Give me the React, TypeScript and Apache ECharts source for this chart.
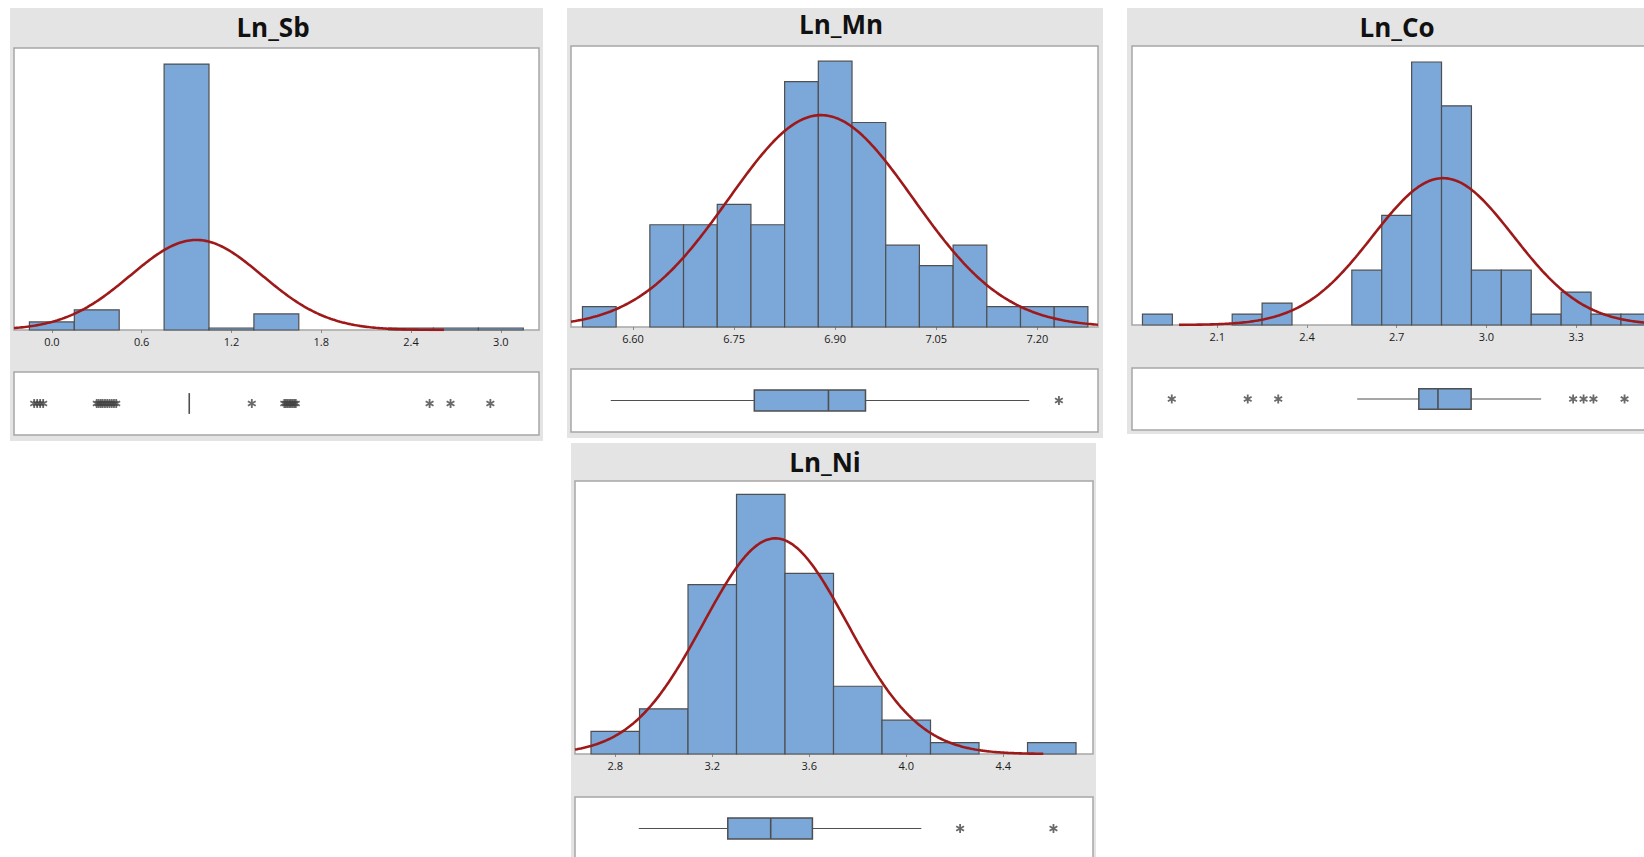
import React, { useEffect, useRef } from "react";
import * as echarts from "echarts";

// ---------------- Data ----------------
// Ln_Sb
const SB_BIN_WIDTH = 0.3;
const SB_CENTERS = [0.0, 0.3, 0.6, 0.9, 1.2, 1.5, 1.8, 2.1, 2.4, 2.7, 3.0];
const SB_COUNTS = [4, 10, 0, 132, 1, 8, 0, 0, 1, 1, 1];
const SB_TICKS = [0.0, 0.6, 1.2, 1.8, 2.4, 3.0];
const SB_FIT = [0.965, 0.44, 44.7]; // mean, sd, peak height (count)
const SB_FIT_RANGE = [-0.253, 2.62];
const SB_BOX = [0.918, 0.918, 0.918, 0.918, 0.918]; // whisker lo, Q1, median, Q3, whisker hi
const SB_OUTLIERS = [
  -0.118, -0.098, -0.078, -0.058,
  0.30, 0.313, 0.327, 0.34, 0.355, 0.37, 0.385, 0.4, 0.415, 0.43,
  1.336,
  1.553, 1.564, 1.575, 1.586, 1.597, 1.608, 1.619, 1.63,
  2.524, 2.664, 2.93,
];

// Ln_Mn
const MN_BIN_WIDTH = 0.05;
const MN_CENTERS = [6.55, 6.6, 6.65, 6.7, 6.75, 6.8, 6.85, 6.9, 6.95, 7.0, 7.05, 7.1, 7.15, 7.2, 7.25];
const MN_COUNTS = [1, 0, 5, 5, 6, 5, 12, 13, 10, 4, 3, 4, 1, 1, 1];
const MN_TICKS = [6.6, 6.75, 6.9, 7.05, 7.2];
const MN_FIT = [6.879, 0.1367, 10.36];
const MN_FIT_RANGE = [6.508, 7.29];
const MN_BOX = [6.567, 6.78, 6.89, 6.945, 7.188];
const MN_OUTLIERS = [7.232];

// Ln_Co
const CO_BIN_WIDTH = 0.1;
const CO_CENTERS = [1.9, 2.0, 2.1, 2.2, 2.3, 2.4, 2.5, 2.6, 2.7, 2.8, 2.9, 3.0, 3.1, 3.2, 3.3, 3.4, 3.5];
const CO_COUNTS = [1, 0, 0, 1, 2, 0, 0, 5, 10, 24, 20, 5, 5, 1, 3, 1, 1];
const CO_TICKS = [2.1, 2.4, 2.7, 3.0, 3.3];
const CO_FIT = [2.855, 0.235, 13.4];
const CO_FIT_RANGE = [1.972, 3.64];
const CO_BOX = [2.568, 2.774, 2.838, 2.949, 3.183];
const CO_OUTLIERS = [1.948, 2.202, 2.304, 3.29, 3.325, 3.358, 3.462];

// Ln_Ni
const NI_BIN_WIDTH = 0.2;
const NI_CENTERS = [2.8, 3.0, 3.2, 3.4, 3.6, 3.8, 4.0, 4.2, 4.4, 4.6];
const NI_COUNTS = [2, 4, 15, 23, 16, 6, 3, 1, 0, 1];
const NI_TICKS = [2.8, 3.2, 3.6, 4.0, 4.4];
const NI_FIT = [3.46, 0.2965, 19.1];
const NI_FIT_RANGE = [2.634, 4.565];
const NI_BOX = [2.897, 3.264, 3.441, 3.613, 4.062];
const NI_OUTLIERS = [4.222, 4.607];

// ---------------- Styling / layout ----------------
const BLUE = "#7BA7D9";
const EDGE = "#4F4F4F";
const CURVE = "#9E1A1A";
const PANEL = "#E4E4E4";
const FRAME = "#A6A6A6";
const FONT = "'Open Sans', 'Noto Sans', sans-serif";

const PANELS = [
  {
    title: "Ln_Sb", titleX: 273, titleY: 27, bg: [10, 8, 533, 433],
    hist: [14, 48, 525, 282], box: [14, 372, 525, 63],
    xMin: -0.253, xMax: 3.255, yMax: 140, digits: 1,
    w: SB_BIN_WIDTH, centers: SB_CENTERS, counts: SB_COUNTS, ticks: SB_TICKS,
    fit: SB_FIT, fitRange: SB_FIT_RANGE, boxStats: SB_BOX, outliers: SB_OUTLIERS,
  },
  {
    title: "Ln_Mn", titleX: 841, titleY: 24, bg: [567, 8, 536, 430],
    hist: [571, 46, 527, 281], box: [571, 369, 527, 63],
    xMin: 6.508, xMax: 7.29, yMax: 13.74, digits: 2,
    w: MN_BIN_WIDTH, centers: MN_CENTERS, counts: MN_COUNTS, ticks: MN_TICKS,
    fit: MN_FIT, fitRange: MN_FIT_RANGE, boxStats: MN_BOX, outliers: MN_OUTLIERS,
  },
  {
    title: "Ln_Co", titleX: 1397, titleY: 27, bg: [1127, 8, 560, 426],
    hist: [1132, 46, 544, 279], box: [1132, 368, 544, 62],
    xMin: 1.815, xMax: 3.634, yMax: 25.46, digits: 1,
    w: CO_BIN_WIDTH, centers: CO_CENTERS, counts: CO_COUNTS, ticks: CO_TICKS,
    fit: CO_FIT, fitRange: CO_FIT_RANGE, boxStats: CO_BOX, outliers: CO_OUTLIERS,
  },
  {
    title: "Ln_Ni", titleX: 825, titleY: 462, bg: [571, 443, 525, 430],
    hist: [575, 481, 518, 273], box: [575, 797, 518, 63],
    xMin: 2.634, xMax: 4.77, yMax: 24.18, digits: 1,
    w: NI_BIN_WIDTH, centers: NI_CENTERS, counts: NI_COUNTS, ticks: NI_TICKS,
    fit: NI_FIT, fitRange: NI_FIT_RANGE, boxStats: NI_BOX, outliers: NI_OUTLIERS,
  },
];

const STAR =
  "path://M-1,-5L1,-5L1,5L-1,5Z M3.83,-3.37L4.83,-1.63L-3.83,3.37L-4.83,1.63Z M4.83,1.63L3.83,3.37L-4.83,-1.63L-3.83,-3.37Z";

function fittedCurve(fit: number[], range: number[]) {
  const [mean, sd, peak] = fit;
  const pts: number[][] = [];
  const n = 240;
  for (let i = 0; i <= n; i++) {
    const x = range[0] + ((range[1] - range[0]) * i) / n;
    const z = (x - mean) / sd;
    pts.push([x, peak * Math.exp(-0.5 * z * z)]);
  }
  return pts;
}

function buildOption() {
  const grid: any[] = [];
  const xAxis: any[] = [];
  const yAxis: any[] = [];
  const series: any[] = [];
  const graphics: any[] = [];

  PANELS.forEach((p, i) => {
    graphics.push({
      type: "rect", silent: true, z: -10,
      shape: { x: p.bg[0], y: p.bg[1], width: p.bg[2], height: p.bg[3] },
      style: { fill: PANEL },
    });
    graphics.push({
      type: "text", silent: true, z: 10,
      x: p.titleX, y: p.titleY,
      style: {
        text: p.title, fill: "#111", font: `700 26px ${FONT}`,
        textAlign: "center", textVerticalAlign: "middle",
      },
    });

    const gh = i * 2;
    const gb = i * 2 + 1;
    [p.hist, p.box].forEach((g) => {
      grid.push({
        show: true, left: g[0], top: g[1], width: g[2], height: g[3],
        backgroundColor: "#fff", borderColor: FRAME, borderWidth: 1.5,
        containLabel: false,
      });
    });

    xAxis.push({
      type: "value", gridIndex: gh, min: p.xMin, max: p.xMax,
      axisLine: { show: false },
      splitLine: { show: false },
      axisTick: {
        show: true, inside: false, length: 3, customValues: p.ticks,
        lineStyle: { color: "#8a8a8a", width: 1 },
      },
      axisLabel: {
        show: true, margin: 6, customValues: p.ticks,
        formatter: (v: number) => v.toFixed(p.digits),
        color: "#1a1a1a", fontSize: 11, fontFamily: FONT,
      },
    });
    xAxis.push({
      type: "value", gridIndex: gb, min: p.xMin, max: p.xMax, show: false,
      splitLine: { show: false },
    });
    yAxis.push({ type: "value", gridIndex: gh, min: 0, max: p.yMax, show: false, splitLine: { show: false } });
    yAxis.push({ type: "value", gridIndex: gb, min: 0, max: 1, show: false, splitLine: { show: false } });

    // histogram
    const histData = p.centers.map((c, k) => [c - p.w / 2, c + p.w / 2, p.counts[k]]);
    series.push({
      type: "custom", xAxisIndex: gh, yAxisIndex: gh, silent: true,
      encode: { x: [0, 1], y: 2 },
      data: histData,
      renderItem: (params: any, api: any) => {
        const c = api.value(2);
        if (!c) return null;
        const a = api.coord([api.value(0), c]);
        const b = api.coord([api.value(1), 0]);
        return {
          type: "rect",
          shape: { x: a[0], y: a[1], width: b[0] - a[0], height: b[1] - a[1] },
          style: { fill: BLUE, stroke: EDGE, lineWidth: 1.2 },
        };
      },
      z: 2,
    });
    // fitted normal curve
    series.push({
      type: "line", xAxisIndex: gh, yAxisIndex: gh, silent: true,
      data: fittedCurve(p.fit, p.fitRange),
      showSymbol: false, symbol: "none", clip: true,
      lineStyle: { color: CURVE, width: 2.6 },
      z: 3,
    });
    // boxplot
    series.push({
      type: "custom", xAxisIndex: gb, yAxisIndex: gb, silent: true,
      encode: { x: [0, 1, 2, 3, 4], y: [] },
      data: [p.boxStats],
      renderItem: (params: any, api: any) => {
        const xs = [0, 1, 2, 3, 4].map((k) => api.coord([api.value(k), 0.5])[0]);
        const yC = api.coord([0, 0.5])[1];
        const yT = api.coord([0, 0.665])[1];
        const yB = api.coord([0, 0.335])[1];
        const children: any[] = [
          { type: "line", shape: { x1: xs[0], y1: yC, x2: xs[1], y2: yC }, style: { stroke: EDGE, lineWidth: 1.2 } },
          { type: "line", shape: { x1: xs[3], y1: yC, x2: xs[4], y2: yC }, style: { stroke: EDGE, lineWidth: 1.2 } },
        ];
        if (xs[3] - xs[1] > 0.5) {
          children.push({
            type: "rect",
            shape: { x: xs[1], y: yT, width: xs[3] - xs[1], height: yB - yT },
            style: { fill: BLUE, stroke: EDGE, lineWidth: 1.5 },
          });
        }
        children.push({
          type: "line", shape: { x1: xs[2], y1: yT, x2: xs[2], y2: yB },
          style: { stroke: EDGE, lineWidth: 1.6 },
        });
        return { type: "group", children };
      },
      z: 2,
    });
    // outliers
    series.push({
      type: "scatter", xAxisIndex: gb, yAxisIndex: gb, silent: true,
      data: p.outliers.map((v) => [v, 0.5]),
      symbol: STAR, symbolSize: 9, symbolKeepAspect: true,
      itemStyle: { color: "#444" },
      z: 3,
    });
  });

  return {
    animation: false,
    backgroundColor: "#ffffff",
    graphic: { elements: graphics },
    grid, xAxis, yAxis, series,
  };
}

export default function App() {
  const ref = useRef<HTMLDivElement>(null);
  useEffect(() => {
    if (!ref.current) return;
    const chart = echarts.init(ref.current, undefined, { renderer: "svg" });
    chart.setOption(buildOption() as any);
    return () => chart.dispose();
  }, []);
  return (
    <div
      style={{
        position: "fixed", left: 0, top: 0, width: 1644, height: 857,
        overflow: "hidden", background: "#fff",
      }}
    >
      <div ref={ref} style={{ width: 1720, height: 880 }} />
    </div>
  );
}
